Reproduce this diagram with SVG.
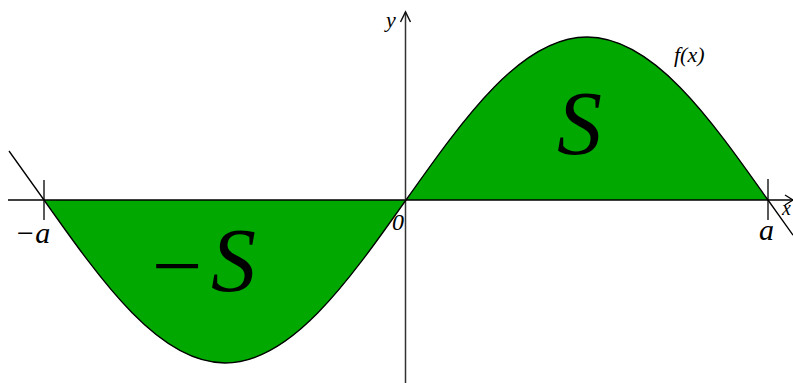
<svg xmlns="http://www.w3.org/2000/svg" width="793" height="383" viewBox="0 0 793 383">
<style>
.lbl{font-family:"Liberation Serif","Times New Roman",serif;font-style:italic;fill:#000}
.ax{stroke:#000;stroke-width:1.3;fill:none}
.fill{fill:#00a800;stroke:none}
</style>
<rect width="793" height="383" fill="#fff"/>
<g id="areas">
<path id="area-pos" class="fill" d="M406,200 C465.03,116.5 521.5,37 587,37 C652.5,37 708.97,116.5 768,200 Z"/>
<path id="area-neg" class="fill" d="M44,200 C103.03,283.5 159.5,363 225,363 C290.5,363 346.97,283.5 406,200 Z"/>
</g>
<g id="connectors">
<line id="x-axis" class="ax" x1="8" y1="200" x2="793" y2="200"/>
<polyline class="ax" points="785,195 793,200 785,205"/>
<line id="y-axis" x1="405.5" y1="12" x2="405.5" y2="383" stroke="#333" stroke-width="1.5"/>
<polyline points="400.5,22 405.5,12 410.5,22" fill="none" stroke="#111" stroke-width="1.5"/>
<line class="ax" x1="44" y1="180" x2="44" y2="220"/>
<line class="ax" x1="768" y1="179" x2="768" y2="220"/>
<path id="curve" class="ax" d="M9,151 L44,200 C103.03,283.5 159.5,363 225,363 C290.5,363 346.97,283.5 406,200 C465.03,116.5 521.5,37 587,37 C652.5,37 708.97,116.5 768,200 L793,235.2"/>
</g>
<g id="labels">
<text class="lbl" x="386" y="27" font-size="22">y</text>
<text class="lbl" x="782" y="215" font-size="20">x</text>
<text class="lbl" x="674" y="62" font-size="22">f(x)</text>
<text class="lbl" x="392" y="230" font-size="24">0</text>
<text class="lbl" x="15" y="243" font-size="30">−a</text>
<text class="lbl" x="759" y="240" font-size="30">a</text>
<text class="lbl" x="557" y="154" font-size="90">S</text>
<text class="lbl" x="146" y="296" font-size="90">−</text>
<text class="lbl" x="211" y="291" font-size="90">S</text>
</g>
</svg>
